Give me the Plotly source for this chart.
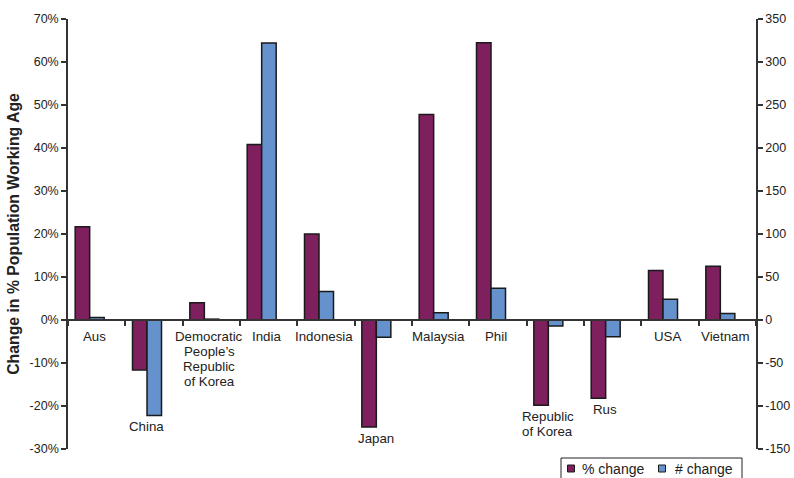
import plotly.graph_objects as go

# Countries along the category axis
countries = ["Aus", "China", "Democratic<br>People’s<br>Republic<br>of Korea", "India",
             "Indonesia", "Japan", "Malaysia", "Phil", "Republic<br>of Korea", "Rus",
             "USA", "Vietnam"]
# Change in working-age population, percent (left axis)
pct_change = [21.7, -11.6, 4.0, 40.8, 20.0, -24.9, 47.8, 64.5, -19.8, -18.2, 11.5, 12.5]
# Change in working-age population, absolute number (right axis)
num_change = [3, -111, 1, 322, 33, -20, 8.5, 37, -7, -19.5, 24, 7.5]
series_names = ["% change", "# change"]

left_ticks = list(range(-30, 71, 10))
right_ticks = list(range(-150, 351, 50))

PURPLE = "#7E1F5E"
BLUE = "#6592CD"
AXIS = "#333333"
TEXT = "#222222"
FONT = "Liberation Sans, Arial, sans-serif"

W, H = 794, 478
M_L, M_R, M_T, M_B = 68, 38, 19, 29
PLOT_W, PLOT_H = W - M_L - M_R, H - M_T - M_B


def px_to_paper(px, py):
    """Convert page pixels to paper coordinates of the plotting area."""
    return (px - M_L) / PLOT_W, (H - M_B - py) / PLOT_H


idx = list(range(len(countries)))
bar_w = 0.253

fig = go.Figure()
fig.add_trace(go.Bar(
    x=idx, y=pct_change, name=series_names[0], yaxis="y",
    width=bar_w, offset=-0.375,
    marker=dict(color=PURPLE, line=dict(color="#1a1a1a", width=1.5)),
))
fig.add_trace(go.Bar(
    x=idx, y=num_change, name=series_names[1], yaxis="y2",
    width=bar_w, offset=-0.122,
    marker=dict(color=BLUE, line=dict(color="#1a1a1a", width=1.5)),
))

# scale factor between the two value axes
ratio = (right_ticks[-1] - right_ticks[0]) / (left_ticks[-1] - left_ticks[0])

# Country labels: below the zero line, or below the lowest bar when negative
annotations = []
LINE_STEP = 15
for i, (name, p, n) in enumerate(zip(countries, pct_change, num_change)):
    low = min(p, n / ratio)
    if low < 0:
        ax_x, ax_y, shift = i - 0.13, low, -2
    else:
        ax_x, ax_y, shift = i - 0.04, 0, -7
    for k, line in enumerate(name.split("<br>")):
        annotations.append(dict(
            x=ax_x, y=ax_y, xref="x", yref="y", text=line, showarrow=False,
            yanchor="top", xanchor="center", yshift=shift - k * LINE_STEP,
            font=dict(family=FONT, size=13.3, color=TEXT),
        ))

# Boxed legend along the bottom edge
shapes = []
bx0, by0 = px_to_paper(561, 458)
bx1, by1 = px_to_paper(742, 484)
shapes.append(dict(type="rect", xref="paper", yref="paper", x0=bx0, x1=bx1, y0=by1, y1=by0,
                   line=dict(color=TEXT, width=1), fillcolor="white", layer="above"))
for name, color, sx, tx in [(series_names[0], PURPLE, 567.5, 581),
                            (series_names[1], BLUE, 658.5, 674)]:
    qx0, qy0 = px_to_paper(sx, 465)
    qx1, qy1 = px_to_paper(sx + 7, 472)
    shapes.append(dict(type="rect", xref="paper", yref="paper", x0=qx0, x1=qx1, y0=qy1, y1=qy0,
                       line=dict(color="#1a1a1a", width=1), fillcolor=color, layer="above"))
    lx, ly = px_to_paper(tx - 1, 469)
    annotations.append(dict(
        x=lx, y=ly, xref="paper", yref="paper", text=name, showarrow=False,
        xanchor="left", yanchor="middle",
        font=dict(family=FONT, size=14, color=TEXT),
    ))

fig.update_layout(
    width=W, height=H,
    margin=dict(l=M_L, r=M_R, t=M_T, b=M_B, autoexpand=False),
    paper_bgcolor="white", plot_bgcolor="white",
    barmode="overlay", showlegend=False,
    font=dict(family=FONT, size=12.5, color=TEXT),
    xaxis=dict(
        type="linear", range=[-0.5, len(countries) - 0.5],
        anchor="free", position=(0 - left_ticks[0]) / (left_ticks[-1] - left_ticks[0]),
        tickvals=[k - 0.5 for k in range(len(countries) + 1)],
        ticks="outside", ticklen=5, tickcolor=AXIS, tickwidth=1.5,
        showticklabels=False, showline=True, linecolor=AXIS, linewidth=1.5,
        showgrid=False, zeroline=False,
    ),
    yaxis=dict(
        range=[left_ticks[0], left_ticks[-1]],
        tickvals=left_ticks, ticktext=[f"{v}%" for v in left_ticks],
        ticks="outside", ticklen=5, tickcolor=AXIS, tickwidth=1.5,
        showline=True, linecolor=AXIS, linewidth=1.5,
        showgrid=False, zeroline=False,
        title=dict(text="<b>Change in % Population Working Age</b>",
                   font=dict(family=FONT, size=15.8, color=TEXT), standoff=6),
    ),
    yaxis2=dict(
        range=[right_ticks[0], right_ticks[-1]], overlaying="y", side="right",
        tickvals=right_ticks, ticktext=[str(v) for v in right_ticks],
        ticks="outside", ticklen=5, tickcolor=AXIS, tickwidth=1.5,
        showline=True, linecolor=AXIS, linewidth=1.5,
        showgrid=False, zeroline=False,
    ),
    yaxis3=dict(
        range=[right_ticks[0], right_ticks[-1]], overlaying="y", side="right",
        tickvals=right_ticks, ticks="inside", ticklen=5, tickcolor=AXIS, tickwidth=1.5,
        showticklabels=False, showline=False, showgrid=False, zeroline=False,
    ),
    annotations=annotations,
    shapes=shapes,
)

fig.write_html("out.html")
